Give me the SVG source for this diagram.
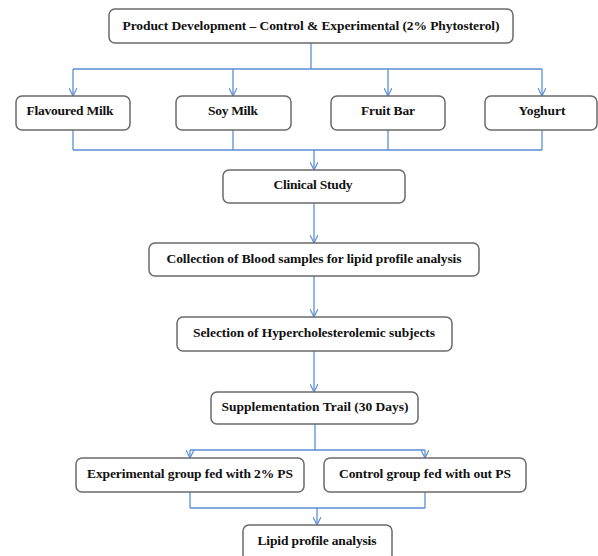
<svg xmlns="http://www.w3.org/2000/svg" width="598" height="556" viewBox="0 0 598 556">
<style>
.box{fill:#fff;stroke:#6a6a6a;stroke-width:1.5}
.lbl{font-family:"Liberation Serif","Times New Roman",serif;font-weight:bold;font-size:13.5px;fill:#111;text-anchor:middle}
.con{fill:none;stroke:#5b8fd6;stroke-width:1.3}
</style>
<defs>
<marker id="arr" viewBox="0 0 10 10" refX="10" refY="5" markerWidth="8" markerHeight="8" markerUnits="userSpaceOnUse" orient="auto">
<path d="M0,0 L10,5 L0,10" fill="none" stroke="#5b8fd6" stroke-width="1.5"/>
</marker>
</defs>
<rect width="598" height="556" fill="#fff"/>
<g id="connectors">
<path class="con" d="M311,43 V69 M73,69 H542"/>
<path class="con" d="M73,69 V96" marker-end="url(#arr)"/>
<path class="con" d="M233,69 V96" marker-end="url(#arr)"/>
<path class="con" d="M388,69 V96" marker-end="url(#arr)"/>
<path class="con" d="M542,69 V96" marker-end="url(#arr)"/>
<path class="con" d="M73,130 V150 M233,130 V150 M388,130 V150 M542,130 V150 M73,150 H542"/>
<path class="con" d="M314,150 V170" marker-end="url(#arr)"/>
<path class="con" d="M314,203 V243" marker-end="url(#arr)"/>
<path class="con" d="M314,276 V317" marker-end="url(#arr)"/>
<path class="con" d="M314,351 V392" marker-end="url(#arr)"/>
<path class="con" d="M315,424 V450 M190,450 H425"/>
<path class="con" d="M190,450 V458" marker-end="url(#arr)"/>
<path class="con" d="M425,450 V458" marker-end="url(#arr)"/>
<path class="con" d="M190,492 V508 M425,492 V508 M190,508 H425"/>
<path class="con" d="M317,508 V525" marker-end="url(#arr)"/>
</g>
<g id="n-product">
<rect class="box" x="109" y="9" width="404" height="34" rx="6"/>
<text class="lbl" x="311" y="30" textLength="377" lengthAdjust="spacing">Product Development – Control &amp; Experimental (2% Phytosterol)</text>
</g>
<g id="n-flavoured">
<rect class="box" x="16" y="96" width="114" height="34" rx="6"/>
<text class="lbl" x="70" y="115" textLength="87" lengthAdjust="spacing">Flavoured Milk</text>
</g>
<g id="n-soy">
<rect class="box" x="176" y="96" width="115" height="34" rx="6"/>
<text class="lbl" x="233" y="115" textLength="50" lengthAdjust="spacing">Soy Milk</text>
</g>
<g id="n-fruit">
<rect class="box" x="331" y="96" width="114" height="34" rx="6"/>
<text class="lbl" x="388" y="115" textLength="54" lengthAdjust="spacing">Fruit Bar</text>
</g>
<g id="n-yoghurt">
<rect class="box" x="485" y="96" width="112" height="34" rx="6"/>
<text class="lbl" x="542" y="115" textLength="47" lengthAdjust="spacing">Yoghurt</text>
</g>
<g id="n-clinical">
<rect class="box" x="223" y="170" width="182" height="33" rx="6"/>
<text class="lbl" x="313" y="189" textLength="79" lengthAdjust="spacing">Clinical Study</text>
</g>
<g id="n-collection">
<rect class="box" x="149" y="243" width="330" height="33" rx="6"/>
<text class="lbl" x="314" y="263" textLength="295" lengthAdjust="spacing">Collection of Blood samples for lipid profile analysis</text>
</g>
<g id="n-selection">
<rect class="box" x="177" y="317" width="275" height="34" rx="6"/>
<text class="lbl" x="314" y="337" textLength="242" lengthAdjust="spacing">Selection of Hypercholesterolemic  subjects</text>
</g>
<g id="n-supplementation">
<rect class="box" x="211" y="392" width="207" height="32" rx="6"/>
<text class="lbl" x="315" y="411" textLength="187" lengthAdjust="spacing">Supplementation Trail (30 Days)</text>
</g>
<g id="n-experimental">
<rect class="box" x="76" y="458" width="228" height="34" rx="6"/>
<text class="lbl" x="190" y="478" textLength="206" lengthAdjust="spacing">Experimental group fed with 2% PS</text>
</g>
<g id="n-control">
<rect class="box" x="324" y="458" width="202" height="34" rx="6"/>
<text class="lbl" x="425" y="478" textLength="172" lengthAdjust="spacing">Control group fed with out PS</text>
</g>
<g id="n-lipid">
<rect class="box" x="243" y="525" width="149" height="36" rx="6"/>
<text class="lbl" x="317" y="545" textLength="119" lengthAdjust="spacing">Lipid profile analysis</text>
</g>
</svg>
